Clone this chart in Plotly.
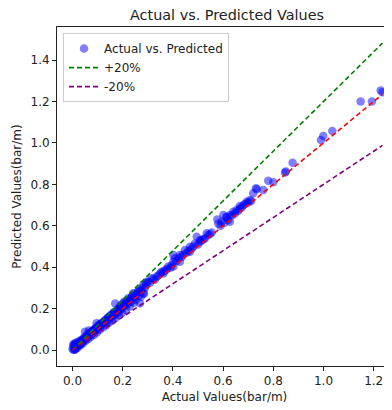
import plotly.graph_objects as go

# ---- data (bar/m) ----
actual = [
    0.000, 0.003, 0.005, 0.007, 0.008, 0.010, 0.012, 0.014, 0.016, 0.018, 0.020, 0.022,
    0.025, 0.027, 0.030, 0.032, 0.035, 0.038, 0.040, 0.043, 0.046, 0.048, 0.050, 0.052,
    0.055, 0.058, 0.060, 0.062, 0.065, 0.065, 0.068, 0.070, 0.072, 0.075, 0.078, 0.080,
    0.083, 0.085, 0.088, 0.090, 0.093, 0.095, 0.096, 0.098, 0.100, 0.103, 0.105, 0.108,
    0.110, 0.113, 0.116,
    0.004, 0.009, 0.013, 0.019, 0.024, 0.031, 0.036, 0.041, 0.047, 0.053, 0.057, 0.063,
    0.067, 0.074, 0.079, 0.086, 0.091, 0.097, 0.104, 0.109, 0.115,
    0.120, 0.124, 0.128, 0.132, 0.136, 0.140, 0.143, 0.147, 0.150, 0.153, 0.157, 0.160,
    0.163, 0.167, 0.170, 0.172, 0.176, 0.180, 0.183, 0.186, 0.189, 0.192, 0.196, 0.200,
    0.203, 0.207, 0.210, 0.214, 0.218, 0.222, 0.226, 0.230, 0.234, 0.238, 0.242, 0.246,
    0.250, 0.255, 0.260, 0.264, 0.269, 0.269, 0.274, 0.278, 0.282, 0.282, 0.288, 0.292,
    0.296,
    0.122, 0.127, 0.134, 0.139, 0.145, 0.152, 0.158, 0.165, 0.171, 0.178, 0.185, 0.191,
    0.198, 0.205, 0.212, 0.219, 0.228, 0.236, 0.244, 0.252, 0.262, 0.272, 0.285,
    0.302, 0.308, 0.316, 0.322, 0.328, 0.335, 0.342, 0.349, 0.355, 0.362, 0.362, 0.370,
    0.376, 0.382, 0.390, 0.395, 0.402, 0.402, 0.402, 0.408, 0.415, 0.422, 0.428, 0.428,
    0.435, 0.440, 0.448, 0.455, 0.462, 0.468, 0.468, 0.475, 0.482, 0.488, 0.495, 0.500,
    0.508, 0.508, 0.515, 0.522, 0.528, 0.535, 0.541, 0.548, 0.555,
    0.577, 0.581, 0.590, 0.594, 0.601, 0.605, 0.614, 0.614, 0.620, 0.627, 0.628, 0.635,
    0.641, 0.647, 0.654, 0.660, 0.667, 0.667, 0.675, 0.681, 0.688, 0.694, 0.700, 0.707,
    0.712, 0.720, 0.731, 0.734, 0.760,
    0.780, 0.800, 0.847, 0.850, 0.877, 0.990, 0.999, 1.035, 1.148, 1.193, 1.228, 1.235,
]
predicted = [
    0.005, 0.018, 0.000, 0.030, 0.010, 0.022, 0.005, 0.035, 0.015, 0.028, 0.018, 0.040,
    0.024, 0.032, 0.028, 0.045, 0.035, 0.040, 0.050, 0.044, 0.055, 0.048, 0.088, 0.058,
    0.060, 0.062, 0.075, 0.066, 0.070, 0.095, 0.080, 0.072, 0.085, 0.078, 0.090, 0.083,
    0.095, 0.088, 0.100, 0.092, 0.105, 0.098, 0.130, 0.112, 0.104, 0.108, 0.118, 0.112,
    0.125, 0.118, 0.128,
    0.028, 0.002, 0.026, 0.010, 0.036, 0.022, 0.050, 0.032, 0.062, 0.045, 0.070, 0.054,
    0.082, 0.064, 0.092, 0.074, 0.104, 0.085, 0.118, 0.098, 0.130,
    0.128, 0.135, 0.130, 0.145, 0.140, 0.150, 0.158, 0.150, 0.165, 0.158, 0.172, 0.165,
    0.180, 0.170, 0.225, 0.185, 0.178, 0.195, 0.186, 0.205, 0.195, 0.215, 0.200, 0.225,
    0.210, 0.235, 0.215, 0.230, 0.220, 0.250, 0.232, 0.245, 0.236, 0.262, 0.274, 0.250,
    0.262, 0.270, 0.280, 0.262, 0.226, 0.290, 0.285, 0.300, 0.314, 0.274, 0.300, 0.322,
    0.330,
    0.110, 0.142, 0.120, 0.155, 0.132, 0.168, 0.142, 0.182, 0.155, 0.195, 0.168, 0.208,
    0.180, 0.222, 0.195, 0.240, 0.210, 0.255, 0.228, 0.242, 0.285, 0.258, 0.272,
    0.330, 0.325, 0.346, 0.346, 0.340, 0.354, 0.360, 0.370, 0.378, 0.370, 0.378, 0.385,
    0.392, 0.403, 0.398, 0.410, 0.403, 0.427, 0.459, 0.443, 0.430, 0.443, 0.427, 0.459,
    0.450, 0.460, 0.483, 0.470, 0.480, 0.475, 0.499, 0.490, 0.500, 0.515, 0.547, 0.510,
    0.523, 0.531, 0.530, 0.535, 0.540, 0.564, 0.556, 0.560, 0.568,
    0.631, 0.610, 0.600, 0.620, 0.652, 0.615, 0.641, 0.644, 0.628, 0.620, 0.652, 0.650,
    0.668, 0.660, 0.676, 0.672, 0.684, 0.696, 0.690, 0.700, 0.705, 0.716, 0.712, 0.725,
    0.720, 0.757, 0.781, 0.776, 0.773,
    0.818, 0.810, 0.857, 0.862, 0.905, 1.014, 1.034, 1.058, 1.200, 1.200, 1.253, 1.245,
]

band_labels = ["+20%", "-20%"]
band_factors = [1.2, 0.8]
band_colors = ["green", "purple"]

x_ticks = [0.0, 0.2, 0.4, 0.6, 0.8, 1.0, 1.2]
y_ticks = [0.0, 0.2, 0.4, 0.6, 0.8, 1.0, 1.2, 1.4]

FONT = "DejaVu Sans"
W, H = 384, 402  # page body adds an 8px offset

lo, hi = min(actual), max(actual)

fig = go.Figure()
fig.add_trace(go.Scatter(
    x=actual, y=predicted, mode="markers", name="Actual vs. Predicted",
    marker=dict(color="blue", size=8.5, opacity=0.5, line=dict(width=0)),
))
fig.add_trace(go.Scatter(
    x=[lo, hi], y=[lo, hi], mode="lines", showlegend=False,
    line=dict(color="red", width=1.6, dash="5px,3px"),
))
for lab, f, c in zip(band_labels, band_factors, band_colors):
    fig.add_trace(go.Scatter(
        x=[lo, hi], y=[lo * f, hi * f], mode="lines", name=lab,
        line=dict(color=c, width=1.6, dash="5px,3px"),
    ))

axis_common = dict(
    showgrid=False, zeroline=False, showline=True, linecolor="#222", linewidth=1,
    ticks="outside", ticklen=4, tickwidth=1, tickcolor="#222", automargin=False,
    tickfont=dict(family=FONT, size=12, color="#222"),
)
fig.update_xaxes(
    range=[-0.0618, 1.273], tickvals=x_ticks, ticktext=[f"{v:.1f}" for v in x_ticks],
    mirror=True,
    title=dict(text="Actual Values(bar/m)", font=dict(family=FONT, size=12, color="#222"), standoff=5),
    **axis_common,
)
fig.update_yaxes(
    range=[-0.077, 1.560], tickvals=y_ticks, ticktext=[f"{v:.1f}" for v in y_ticks],
    title=dict(text="Predicted Values(bar/m)", font=dict(family=FONT, size=12, color="#222"), standoff=6),
    **axis_common,
)
fig.update_layout(
    width=W, height=H,
    margin=dict(l=49, r=0, t=19, b=44),
    paper_bgcolor="white", plot_bgcolor="white",
    font=dict(family=FONT, size=12, color="#222"),
    title=dict(text="Actual vs. Predicted Values", x=219 / W, xref="container", xanchor="center",
               y=1 - 7 / H, yref="container", yanchor="middle",
               font=dict(family=FONT, size=14.4, color="#222")),
    legend=dict(x=0.018, y=0.982, xanchor="left", yanchor="top",
                bgcolor="rgba(255,255,255,0.8)", bordercolor="#cccccc", borderwidth=1,
                font=dict(family=FONT, size=12, color="#222")),
    showlegend=True,
)
fig.write_html("out.html")
